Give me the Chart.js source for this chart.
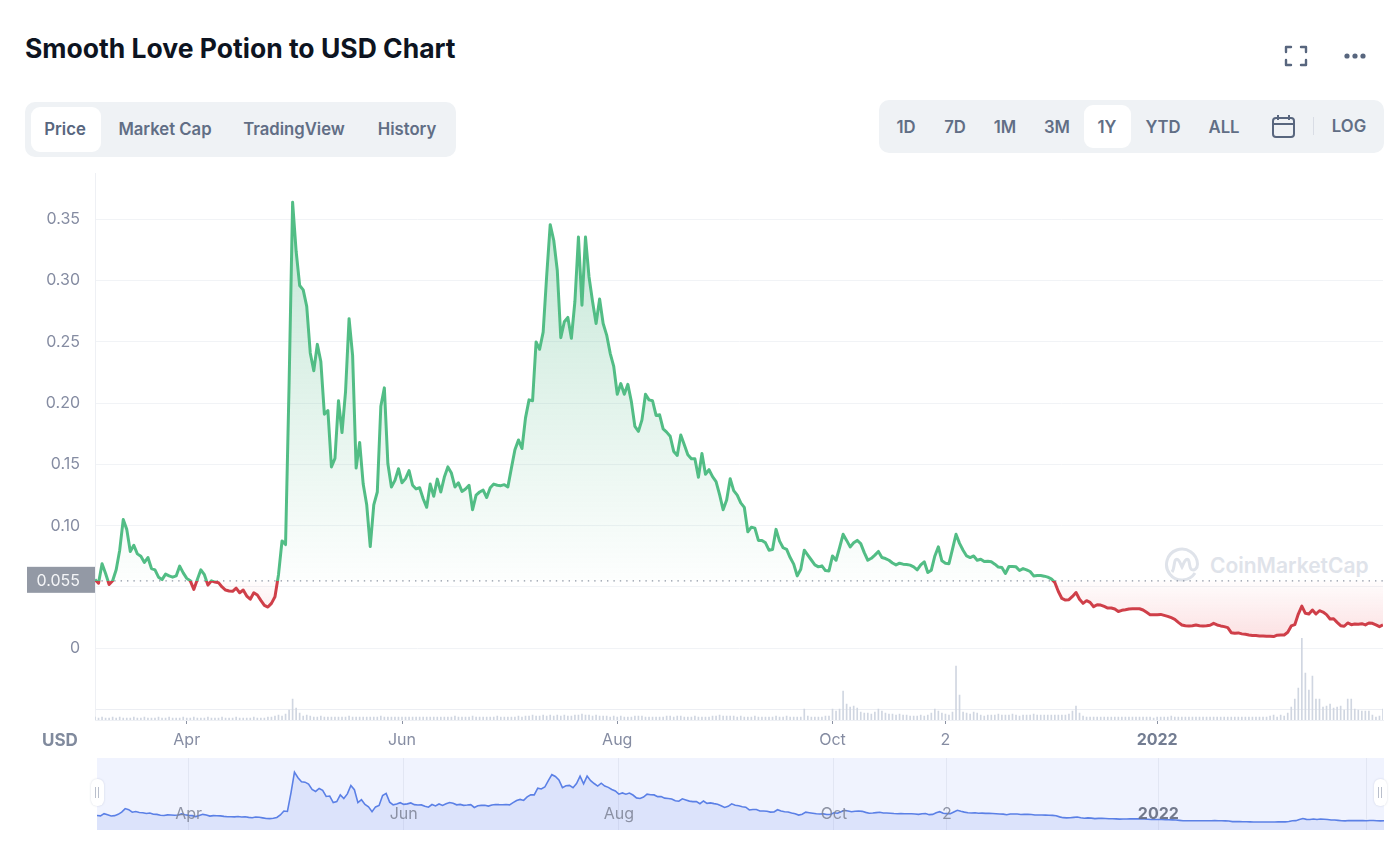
<!DOCTYPE html>
<html>
<head>
<meta charset="utf-8">
<title>Smooth Love Potion to USD Chart</title>
<script src="https://cdn.jsdelivr.net/npm/chart.js@4/dist/chart.umd.min.js"></script>
<style>
    html, body { margin: 0; padding: 0; background: #fff; width: 1400px; height: 852px; overflow: hidden; }
    body { position: relative; font-family: Inter, "Noto Sans", sans-serif; }
    .abs { position: absolute; }
    canvas { position: absolute; display: block; }
    #title { left: 25px; top: 30px; font-size: 26.5px; line-height: 36px; font-weight: 700; color: #0d1421; white-space: nowrap; }
    .panel { background: #eff2f5; border-radius: 10px; }
    .active { background: #fff; border-radius: 9px; }
    .tab { font-size: 16.7px; font-weight: 600; color: #616e85; transform: translateX(-50%); line-height: 20px; white-space: nowrap; }
    .dark { color: #58667e; }
    #usd { left: 42px; top: 730px; font-size: 17px; line-height: 20px; font-weight: 700; color: #808a9d; }
    #mark { left: 1210px; top: 552px; font-size: 21px; line-height: 28px; font-weight: 600; color: #dfe3ea; white-space: nowrap; }
    .handle { width: 13px; height: 27px; top: 779px; background: #fff; border-radius: 6px; box-shadow: 0 0 2px rgba(120,130,160,.3); }
    .handle i { position: absolute; top: 8px; width: 1px; height: 11px; background: #b9bfcc; }
</style>
</head>
<body>
<div class="abs" id="title">Smooth Love Potion to USD Chart</div>

<svg class="abs" style="left:1284px;top:45px" width="24" height="22" viewBox="0 0 24 22" fill="none" stroke="#58667e" stroke-width="2.4" stroke-linecap="round" stroke-linejoin="round">
    <path d="M2 7V2H7M17 2H22V7M22 15V20H17M7 20H2V15"/>
</svg>
<svg class="abs" style="left:1343px;top:52px" width="24" height="8" viewBox="0 0 24 8" fill="#58667e">
    <circle cx="4" cy="4" r="2.6"/><circle cx="12" cy="4" r="2.6"/><circle cx="20" cy="4" r="2.6"/>
</svg>

<div class="abs panel" style="left:25px;top:102px;width:431px;height:55px"></div>
<div class="abs active" style="left:31px;top:107px;width:70px;height:45px"></div>
<div class="abs tab dark" style="left:65px;top:119px">Price</div>
<div class="abs tab" style="left:165px;top:119px">Market Cap</div>
<div class="abs tab" style="left:294px;top:119px">TradingView</div>
<div class="abs tab" style="left:407px;top:119px">History</div>

<div class="abs panel" style="left:879px;top:100px;width:505px;height:53px"></div>
<div class="abs active" style="left:1084px;top:105px;width:47px;height:43px"></div>
<div class="abs tab" style="left:906px;top:117px">1D</div>
<div class="abs tab" style="left:955px;top:117px">7D</div>
<div class="abs tab" style="left:1005px;top:117px">1M</div>
<div class="abs tab" style="left:1057px;top:117px">3M</div>
<div class="abs tab" style="left:1107px;top:117px">1Y</div>
<div class="abs tab" style="left:1163px;top:117px">YTD</div>
<div class="abs tab" style="left:1224px;top:117px">ALL</div>
<svg class="abs" style="left:1271px;top:114px" width="25" height="25" viewBox="0 0 25 25" fill="none" stroke="#58667e" stroke-width="2">
    <rect x="2" y="4" width="21" height="19" rx="3"/><path d="M2 10H23M7 1V6M18 1V6"/>
</svg>
<div class="abs" style="left:1313px;top:117px;width:1px;height:18px;background:#d9dde5"></div>
<div class="abs tab" style="left:1349px;top:116px">LOG</div>

<svg class="abs" style="left:1164px;top:547px" width="36" height="36" viewBox="0 0 36 36" fill="none" stroke="#dfe3ea" stroke-width="3">
    <path d="M31 26A15.5 15.5 0 1 1 33.5 17C33.5 22 30 24 27.500 22.500C25 21 26 14 24 12.500C21.500 11 19.500 17 18 20C16.500 17 14.500 11 12 12.500C9.500 14 11 21 8 25"/>
</svg>
<div class="abs" id="mark">CoinMarketCap</div>

<canvas id="priceChart" width="1400" height="616" style="left:0;top:149px"></canvas>
<div class="abs" id="usd">USD</div>

<canvas id="navChart" width="1287" height="72" style="left:97px;top:758px"></canvas>
<div class="abs handle" style="left:91px"><i style="left:4px"></i><i style="left:7px"></i></div>
<div class="abs handle" style="left:1374px"><i style="left:4px"></i><i style="left:7px"></i></div>

<script>
    // one value per day, 2021-03-06 to 2022-03-06
    var priceSeries = [
        .056, .053, .069, .061, .052, .055, .064, .080, .105, .097,
        .079, .084, .077, .075, .070, .074, .065, .064, .058, .056,
        .0605, .059, .058, .059, .067, .0615, .057, .055, .048, .056,
        .064, .060, .0515, .055, .054, .0535, .050, .0475, .0467, .0464,
        .049, .0453, .0475, .0426, .040, .0453, .0434, .039, .035, .0336,
        .0366, .042, .060, .0876, .0846, .215, .364, .324, .296, .2925,
        .279, .241, .2265, .248, .234, .191, .194, .148, .155, .202,
        .176, .2095, .269, .239, .147, .168, .134, .117, .083, .117,
        .1275, .1975, .2125, .1505, .1316, .137, .1465, .135, .1384, .145,
        .133, .130, .131, .122, .115, .134, .124, .138, .1275, .1397,
        .148, .143, .1316, .135, .128, .130, .133, .113, .125, .1275,
        .129, .123, .131, .134, .133, .1327, .1335, .1316, .147, .162,
        .170, .163, .188, .2027, .202, .250, .244, .258, .304, .3457,
        .333, .3085, .2534, .2665, .270, .253, .283, .3356, .280, .3356,
        .303, .283, .265, .285, .265, .2556, .2407, .230, .2073, .216,
        .2073, .2154, .2013, .181, .177, .1864, .2073, .2027, .202, .190,
        .1905, .179, .1764, .173, .1606, .1574, .174, .166, .158, .1547,
        .1547, .1395, .159, .142, .1457, .140, .136, .1254, .113, .121,
        .1384, .1286, .125, .1186, .115, .095, .0988, .098, .088, .088,
        .086, .080, .0806, .097, .0874, .082, .0806, .074, .0686, .059,
        .0645, .080, .076, .072, .068, .0664, .0672, .0634, .0631, .0753,
        .0718, .082, .093, .088, .0827, .086, .088, .0854, .078, .0718,
        .0734, .076, .079, .074, .0732, .0718, .0696, .068, .0694, .0686,
        .0683, .0678, .0664, .064, .068, .0705, .0618, .0637, .0753, .0827,
        .0713, .0694, .069, .0808, .093, .0856, .080, .0753, .074, .0753,
        .0718, .0726, .0707, .071, .0705, .0686, .0662, .0659, .061, .0667,
        .0667, .0664, .0634, .065, .064, .0626, .059, .0593, .0593, .0588,
        .058, .0566, .0537, .0463, .0406, .0393, .0396, .0423, .0455, .040,
        .0366, .0388, .0374, .0339, .0355, .0352, .0341, .0328, .0328, .032,
        .030, .0309, .0314, .032, .0322, .0322, .0322, .0312, .0293, .0274,
        .0274, .0274, .0276, .0268, .026, .0249, .0236, .0211, .019, .0184,
        .0182, .0184, .019, .0184, .0182, .0184, .0187, .0203, .019, .0182,
        .0176, .0168, .0127, .0122, .0125, .0117, .0114, .0108, .0103, .0103,
        .010, .010, .0098, .0098, .0095, .0106, .0108, .0108, .013, .0182,
        .0192, .0279, .0344, .0285, .0279, .0312, .0279, .0306, .0295, .0274,
        .0238, .0241, .0211, .0184, .0179, .0206, .0192, .0198, .0195, .020,
        .019, .0206, .0203, .019, .0176, .019
    ];
    // volume has no axis in the picture, so these are relative bar heights
    var volumeSeries = [
        3, 2, 3, 2, 2, 3, 2, 3, 2, 2,
        2, 3, 2, 2, 3, 2, 2, 2, 3, 2,
        2, 3, 2, 2, 2, 3, 2, 2, 3, 2,
        2, 2, 3, 2, 2, 2, 3, 2, 2, 2,
        3, 2, 2, 2, 2, 3, 2, 2, 2, 3,
        3, 4, 5, 4, 6, 10, 21, 12, 7, 4,
        5, 4, 3, 3, 4, 3, 3, 3, 3, 3,
        3, 3, 4, 3, 3, 3, 3, 3, 3, 3,
        3, 4, 3, 3, 3, 3, 3, 3, 3, 3,
        3, 3, 3, 3, 3, 3, 3, 3, 3, 3,
        3, 3, 4, 3, 3, 3, 3, 4, 3, 3,
        3, 3, 3, 3, 4, 3, 3, 3, 3, 3,
        4, 3, 4, 4, 5, 4, 4, 5, 4, 5,
        4, 5, 4, 5, 4, 4, 5, 5, 6, 5,
        5, 4, 5, 4, 4, 4, 3, 4, 3, 4,
        3, 3, 3, 4, 4, 4, 3, 3, 3, 3,
        3, 3, 4, 4, 3, 4, 4, 3, 3, 3,
        4, 3, 3, 3, 3, 4, 4, 5, 4, 4,
        4, 4, 3, 4, 3, 3, 3, 4, 3, 3,
        3, 3, 3, 4, 3, 3, 4, 3, 3, 3,
        3, 11, 4, 3, 3, 3, 3, 4, 4, 11,
        9, 11, 29, 16, 13, 14, 12, 8, 7, 7,
        6, 8, 11, 9, 7, 6, 6, 5, 6, 5,
        5, 4, 4, 4, 5, 4, 5, 7, 11, 9,
        7, 6, 5, 8, 54, 25, 8, 7, 6, 8,
        7, 5, 4, 5, 5, 5, 6, 5, 5, 5,
        6, 5, 4, 5, 5, 5, 6, 5, 5, 5,
        5, 5, 5, 5, 5, 5, 6, 9, 14, 7,
        4, 3, 3, 3, 3, 3, 3, 3, 3, 3,
        3, 3, 3, 3, 3, 3, 3, 3, 3, 3,
        2, 3, 3, 3, 3, 4, 3, 3, 3, 3,
        3, 3, 3, 3, 3, 3, 3, 3, 3, 3,
        3, 3, 3, 3, 3, 3, 3, 3, 3, 3,
        3, 3, 3, 4, 5, 3, 5, 4, 7, 13,
        21, 32, 82, 47, 30, 44, 21, 21, 13, 14,
        16, 12, 13, 14, 10, 21, 21, 11, 10, 9,
        9, 9, 5, 3, 4, 11
    ];
    var basePrice = 0.055;
    var priceTicks = [0, 0.05, 0.1, 0.15, 0.2, 0.25, 0.3, 0.35];
    var dayTicks = [26, 87, 148, 209, 241, 301];
    var dayLabels = ['Apr', 'Jun', 'Aug', 'Oct', '2', '2022'];
    var navDayTicks = [26, 87, 148, 209, 241, 301, 360];
    var yearDay = 301;

    var GREEN = '#52bd85';
    var RED = '#cf3f49';

    function toPoints(values) {
        return values.map(function (v, i) {
            return {x: i, y: v};
        });
    }

    function dayTickCallback(days, labels) {
        return function (value) {
            return labels[days.indexOf(value)];
        };
    }

    function isYearTick(c) {
        return c.tick && c.tick.value == yearDay;
    }

    function tickColor(normal) {
        return function (c) {
            return isYearTick(c) ? '#737d92' : normal;
        };
    }

    function tickFont(c) {
        return {family: 'Inter', size: 16, weight: isYearTick(c) ? '700' : '400'};
    }

    var priceBoxPlugin = {
        id: 'priceBox',
        afterDraw: function (chart) {
            var ctx = chart.ctx;
            var y = chart.scales.y.getPixelForValue(basePrice);
            ctx.save();
            ctx.fillStyle = '#9399a5';
            ctx.fillRect(27, y - 14, 68, 26);
            ctx.fillStyle = '#f4f5f7';
            ctx.font = '16px Inter';
            ctx.textAlign = 'right';
            ctx.textBaseline = 'middle';
            ctx.fillText(String(basePrice), 80, y);
            ctx.restore();
        }
    };

    // the navigator's month labels sit inside the plot, over the line
    var navLabelsPlugin = {
        id: 'navLabels',
        afterDraw: function (chart) {
            var ctx = chart.ctx;
            var x = chart.scales.x;
            ctx.save();
            ctx.textAlign = 'center';
            ctx.textBaseline = 'middle';
            dayTicks.forEach(function (day, i) {
                var year = day == yearDay;
                ctx.font = (year ? '700 ' : '') + '16px Inter';
                ctx.fillStyle = year ? 'rgba(100, 108, 128, 0.9)' : 'rgba(125, 130, 148, 0.85)';
                ctx.fillText(dayLabels[i], x.getPixelForValue(day), 56);
            });
            ctx.restore();
        }
    };

    var priceChart = new Chart(document.getElementById('priceChart'), {
        type: 'line',
        plugins: [priceBoxPlugin],
        data: {
            datasets: [
                {
                    data: toPoints(priceSeries),
                    borderColor: GREEN,
                    borderWidth: 3,
                    borderJoinStyle: 'round',
                    pointRadius: 0,
                    tension: 0,
                    order: 1
                },
                {
                    data: [{x: 0, y: basePrice}, {x: 365, y: basePrice}],
                    borderColor: '#8d95a3',
                    borderWidth: 1.4,
                    borderDash: [1.4, 5],
                    pointRadius: 0,
                    fill: false,
                    order: 2
                },
                {
                    type: 'bar',
                    data: toPoints(volumeSeries),
                    yAxisID: 'y2',
                    backgroundColor: '#d0d6e1',
                    barThickness: 1,
                    order: 3
                }
            ]
        },
        options: {
            responsive: false,
            animation: false,
            events: [],
            layout: {autoPadding: false, padding: {top: 0, right: 17, bottom: 0, left: 0}},
            plugins: {legend: {display: false}, tooltip: {enabled: false}},
            scales: {
                x: {
                    type: 'linear',
                    min: 0,
                    max: 365,
                    offset: false,
                    afterBuildTicks: function (axis) {
                        axis.ticks = dayTicks.map(function (v) {
                            return {value: v};
                        });
                    },
                    afterFit: function (axis) {
                        axis.height = 45;
                    },
                    border: {color: '#eef0f4'},
                    grid: {offset: false, drawOnChartArea: false, tickLength: 4, tickColor: '#8b92a3'},
                    ticks: {
                        autoSkip: false,
                        maxRotation: 0,
                        padding: 7,
                        callback: dayTickCallback(dayTicks, dayLabels),
                        color: tickColor('#858ca2'),
                        font: tickFont
                    }
                },
                y: {
                    min: -0.0586,
                    max: 0.3874,
                    afterBuildTicks: function (axis) {
                        axis.ticks = priceTicks.map(function (v) {
                            return {value: v};
                        });
                    },
                    afterFit: function (axis) {
                        axis.width = 95;
                    },
                    border: {color: '#eef0f4'},
                    grid: {color: '#f1f3f6', drawTicks: false},
                    ticks: {
                        padding: 15,
                        color: '#858ca2',
                        font: {family: 'Inter', size: 16},
                        callback: function (value) {
                            if (value === 0) return '0';
                            if (value === 0.05) return '';
                            return value.toFixed(2);
                        }
                    }
                },
                y2: {
                    position: 'right',
                    min: 0,
                    max: 548,
                    afterBuildTicks: function (axis) {
                        axis.ticks = [{value: 11}];
                    },
                    afterFit: function (axis) {
                        axis.width = 0;
                    },
                    border: {display: false},
                    grid: {color: '#eceef3', drawTicks: false},
                    ticks: {display: false}
                }
            }
        }
    });

    // gradients need the pixel of the base price, so they are set after the first layout
    var yScale = priceChart.scales.y;
    var basePixel = yScale.getPixelForValue(basePrice);
    var ctx = priceChart.ctx;
    var height = priceChart.height;

    var lineColor = ctx.createLinearGradient(0, 0, 0, height);
    var stop = basePixel / height;
    lineColor.addColorStop(0, GREEN);
    lineColor.addColorStop(stop, GREEN);
    lineColor.addColorStop(stop, RED);
    lineColor.addColorStop(1, RED);

    var fillAbove = ctx.createLinearGradient(0, yScale.getPixelForValue(0.364), 0, basePixel);
    fillAbove.addColorStop(0, 'rgba(60, 175, 120, 0.30)');
    fillAbove.addColorStop(1, 'rgba(60, 175, 120, 0.01)');

    var fillBelow = ctx.createLinearGradient(0, basePixel, 0, yScale.getPixelForValue(0));
    fillBelow.addColorStop(0, 'rgba(234, 57, 67, 0.01)');
    fillBelow.addColorStop(1, 'rgba(234, 57, 67, 0.18)');

    priceChart.data.datasets[0].borderColor = lineColor;
    priceChart.data.datasets[0].fill = {target: {value: basePrice}, above: fillAbove, below: fillBelow};
    priceChart.update();

    new Chart(document.getElementById('navChart'), {
        type: 'line',
        plugins: [navLabelsPlugin],
        data: {
            datasets: [{
                data: toPoints(priceSeries),
                borderColor: '#5b80e6',
                borderWidth: 1.6,
                pointRadius: 0,
                tension: 0,
                fill: 'start',
                backgroundColor: 'rgba(110, 135, 235, 0.15)'
            }]
        },
        options: {
            responsive: false,
            animation: false,
            events: [],
            layout: {autoPadding: false, padding: 0},
            plugins: {legend: {display: false}, tooltip: {enabled: false}},
            scales: {
                x: {
                    type: 'linear',
                    min: 0,
                    max: 365,
                    offset: false,
                    afterBuildTicks: function (axis) {
                        axis.ticks = navDayTicks.map(function (v) {
                            return {value: v};
                        });
                    },
                    afterFit: function (axis) {
                        axis.height = 0;
                    },
                    border: {display: false},
                    grid: {color: '#e2e6f3', drawTicks: false},
                    ticks: {display: false}
                },
                y: {display: false, min: -0.047, max: 0.464}
            }
        }
    });
    document.getElementById('navChart').style.background = '#f0f3fe';
</script>
</body>
</html>
